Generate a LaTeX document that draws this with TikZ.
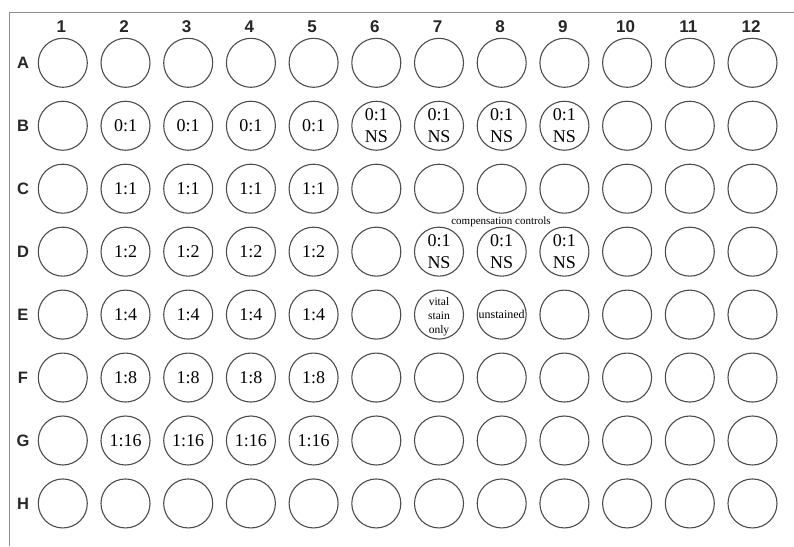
\documentclass[tikz,border=0pt]{standalone}
\usepackage{fontspec}
\setmainfont{Liberation Serif}
\newfontfamily\platefont{Liberation Sans}
\usetikzlibrary{positioning}

\begin{document}
\begin{tikzpicture}[
    x=1pt, y=-1pt,
    % Estilos de la placa
    plate frame/.style={line width=1pt, black!45},
    well/.style={circle, draw=black!70, line width=1.1pt, minimum size=49pt, inner sep=0pt},
    well text/.style={align=center, font=\fontsize{18}{22.5}\selectfont},
    well small/.style={align=center, font=\fontsize{11.5}{14}\selectfont, inner sep=0pt},
    col label/.style={font=\platefont\bfseries\fontsize{17}{17}\selectfont, black!85},
    row label/.style={font=\platefont\bfseries\fontsize{16.5}{17}\selectfont, black!85}
]
    \useasboundingbox (0,0) rectangle (794,546);

    % =========================================================================
    % 1. Marco de la placa
    % =========================================================================
    \draw[plate frame] (9,546) -- (9,12) -- (794,12);

    % =========================================================================
    % 2. Pocillos (filas A--H, columnas 1--12)
    % =========================================================================
    \foreach \c in {1,...,12} {
        \node[col label] (col\c) at ({62.8+62.7*(\c-1)-1.5}, 26.3) {\c};
    }
    \foreach \r [count=\i from 0] in {A,B,C,D,E,F,G,H} {
        \node[row label] (row\r) at (23, {62.8+62.95*\i}) {\r};
        \foreach \c in {1,...,12} {
            \node[well] (\r\c) at ({62.8+62.7*(\c-1)}, {62.8+62.95*\i}) {};
        }
    }

    % =========================================================================
    % 3. Diluciones (columnas 2--5)
    % =========================================================================
    \foreach \r/\t in {B/0:1, C/1:1, D/1:2, E/1:4, F/1:8, G/1:16} {
        \foreach \c in {2,...,5} {
            \node[well text] at (\r\c) {\t};
        }
    }

    % Pocillos NS
    \foreach \w in {B6,B7,B8,B9,D7,D8,D9} {
        \node[well text] at (\w) {0:1\\NS};
    }

    % =========================================================================
    % 4. Controles de compensación
    % =========================================================================
    \node[font=\fontsize{11}{12}\selectfont, inner sep=0pt] (comp) at (501,222) {compensation controls};
    \node[well small] at ([yshift=-2pt]E7) {vital\\stain\\only};
    \node[well small, font=\fontsize{12}{14}\selectfont] at (E8) {unstained};

\end{tikzpicture}
\end{document}
